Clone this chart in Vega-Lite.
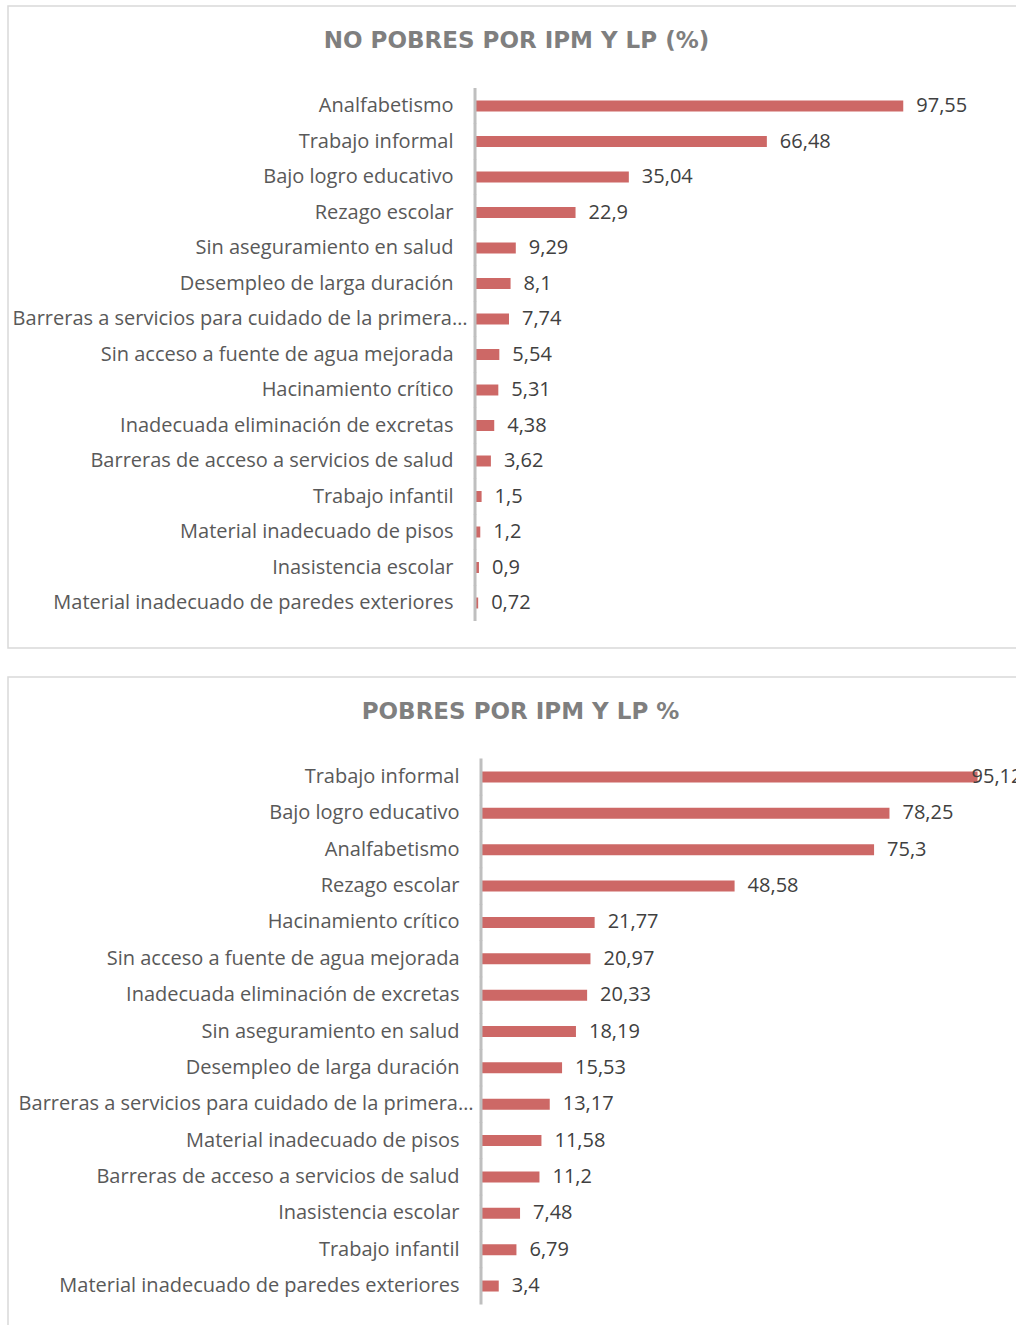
{
  "$schema": "https://vega.github.io/schema/vega-lite/v6.json",
  "padding": {"left": 7, "top": 5, "right": 0, "bottom": 0},
  "background": "white",
  "spacing": 27,
  "config": {
    "view": {"stroke": "#d9d9d9", "strokeWidth": 1.5},
    "locale": {"number": {"decimal": ",", "thousands": ".", "grouping": [3], "currency": ["", ""]}},
    "axis": {"labelFont": "Open Sans", "labelFontSize": 20, "labelColor": "#595959", "domain": false, "ticks": false, "grid": false, "title": null, "labelLimit": 600,
             "labelPadding": {"condition": {"test": "indexof(datum.label, 'primera') >= 0", "value": 8}, "value": 22}}
  },
  "datasets": {
    "nopobres": [
      {"cat": "Analfabetismo", "v": 97.55},
      {"cat": "Trabajo informal", "v": 66.48},
      {"cat": "Bajo logro educativo", "v": 35.04},
      {"cat": "Rezago escolar", "v": 22.9},
      {"cat": "Sin aseguramiento en salud", "v": 9.29},
      {"cat": "Desempleo de larga duración", "v": 8.1},
      {"cat": "Barreras a servicios para cuidado de la primera…", "v": 7.74},
      {"cat": "Sin acceso a fuente de agua mejorada", "v": 5.54},
      {"cat": "Hacinamiento crítico", "v": 5.31},
      {"cat": "Inadecuada eliminación de excretas", "v": 4.38},
      {"cat": "Barreras de acceso a servicios de salud", "v": 3.62},
      {"cat": "Trabajo infantil", "v": 1.5},
      {"cat": "Material inadecuado de pisos", "v": 1.2},
      {"cat": "Inasistencia escolar", "v": 0.9},
      {"cat": "Material inadecuado de paredes exteriores", "v": 0.72}
    ],
    "pobres": [
      {"cat": "Trabajo informal", "v": 95.12},
      {"cat": "Bajo logro educativo", "v": 78.25},
      {"cat": "Analfabetismo", "v": 75.3},
      {"cat": "Rezago escolar", "v": 48.58},
      {"cat": "Hacinamiento crítico", "v": 21.77},
      {"cat": "Sin acceso a fuente de agua mejorada", "v": 20.97},
      {"cat": "Inadecuada eliminación de excretas", "v": 20.33},
      {"cat": "Sin aseguramiento en salud", "v": 18.19},
      {"cat": "Desempleo de larga duración", "v": 15.53},
      {"cat": "Barreras a servicios para cuidado de la primera…", "v": 13.17},
      {"cat": "Material inadecuado de pisos", "v": 11.58},
      {"cat": "Barreras de acceso a servicios de salud", "v": 11.2},
      {"cat": "Inasistencia escolar", "v": 7.48},
      {"cat": "Trabajo infantil", "v": 6.79},
      {"cat": "Material inadecuado de paredes exteriores", "v": 3.4}
    ]
  },
  "vconcat": [
    {
      "width": 1009,
      "height": 642,
      "data": {"name": "nopobres"},
      "title": {"text": "NO POBRES POR IPM Y LP (%)", "font": "DejaVu Sans", "fontWeight": "bold", "fontSize": 23, "color": "#7f7f7f", "anchor": "middle", "offset": -65, "baseline": "alphabetic", "dx": 4},
      "encoding": {
        "y": {"field": "cat", "type": "nominal", "sort": null,
              "scale": {"paddingInner": 0, "paddingOuter": 0, "range": [82.25, 614.75]},
              "axis": {"orient": "left", "offset": -467}},
        "x": {"field": "v", "type": "quantitative", "scale": {"domain": [-106.38, 123.46], "nice": false, "zero": false}, "axis": null}
      },
      "layer": [
        {"mark": {"type": "bar", "height": 11, "color": "#cd6866"}},
        {"mark": {"type": "tick", "orient": "vertical", "thickness": 3, "size": 36, "color": "#bfbfbf", "opacity": 1},
         "encoding": {"x": {"datum": 0}}},
        {"mark": {"type": "text", "align": "left", "baseline": "middle", "dx": 13, "font": "Open Sans", "fontSize": 20, "color": "#404040"},
         "encoding": {"text": {"field": "v", "type": "quantitative", "format": ".2~f"}}}
      ]
    },
    {
      "width": 1009,
      "height": 649,
      "data": {"name": "pobres"},
      "title": {"text": "POBRES POR IPM Y LP %", "font": "DejaVu Sans", "fontWeight": "bold", "fontSize": 23, "color": "#7f7f7f", "anchor": "middle", "offset": -65, "baseline": "alphabetic", "dx": 8},
      "encoding": {
        "y": {"field": "cat", "type": "nominal", "sort": null,
              "scale": {"paddingInner": 0, "paddingOuter": 0, "range": [81.8, 627.2]},
              "axis": {"orient": "left", "offset": -473}},
        "x": {"field": "v", "type": "quantitative", "scale": {"domain": [-90.61, 102.68], "nice": false, "zero": false}, "axis": null}
      },
      "layer": [
        {"mark": {"type": "bar", "height": 11, "color": "#cd6866"}},
        {"mark": {"type": "tick", "orient": "vertical", "thickness": 3, "size": 37, "color": "#bfbfbf", "opacity": 1},
         "encoding": {"x": {"datum": 0}}},
        {"transform": [{"filter": "datum.v < 90"}],
         "mark": {"type": "text", "align": "left", "baseline": "middle", "dx": 13, "font": "Open Sans", "fontSize": 20, "color": "#404040"},
         "encoding": {"text": {"field": "v", "type": "quantitative", "format": ".2~f"}}},
        {"transform": [{"filter": "datum.v >= 90"}],
         "mark": {"type": "text", "align": "left", "baseline": "middle", "dx": -6, "font": "Open Sans", "fontSize": 20, "color": "#404040", "clip": true},
         "encoding": {"text": {"field": "v", "type": "quantitative", "format": ".2~f"}}}
      ]
    }
  ]
}
